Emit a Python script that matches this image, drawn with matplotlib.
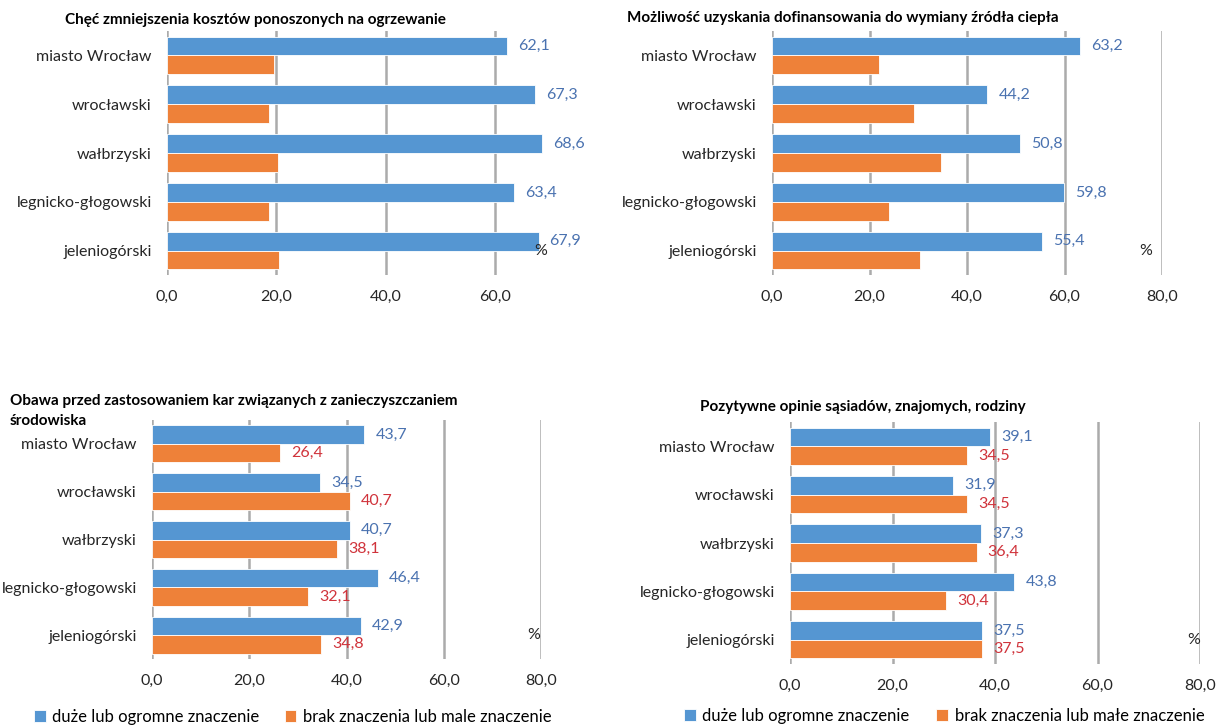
import matplotlib
matplotlib.use("Agg")
import matplotlib.pyplot as plt
import numpy as np

plt.rcParams['font.family'] = ['Lato', 'DejaVu Sans']

categories = ["miasto Wrocław", "wrocławski", "wałbrzyski", "legnicko-głogowski", "jeleniogórski"]

titles = [
    "Chęć zmniejszenia kosztów ponoszonych na ogrzewanie",
    "Możliwość uzyskania dofinansowania do wymiany źródła ciepła",
    "Obawa przed zastosowaniem kar związanych z zanieczyszczaniem\nśrodowiska",
    "Pozytywne opinie sąsiadów, znajomych, rodziny",
]

blue_1 = [62.1, 67.3, 68.6, 63.4, 67.9]
orange_1 = [19.5, 18.6, 20.2, 18.6, 20.4]
blue_2 = [63.2, 44.2, 50.8, 59.8, 55.4]
orange_2 = [21.9, 29.1, 34.7, 24.1, 30.3]
blue_3 = [43.7, 34.5, 40.7, 46.4, 42.9]
orange_3 = [26.4, 40.7, 38.1, 32.1, 34.8]
blue_4 = [39.1, 31.9, 37.3, 43.8, 37.5]
orange_4 = [34.5, 34.5, 36.4, 30.4, 37.5]

ticks_top_left = [0, 20, 40, 60]
ticks_full = [0, 20, 40, 60, 80]

legend_labels_3 = ["duże lub ogromne znaczenie", "brak znaczenia lub male znaczenie"]
legend_labels_4 = ["duże lub ogromne znaczenie", "brak znaczenia lub małe znaczenie"]

BLUE = "#5596D2"
ORANGE = "#EE8139"
BLUE_TXT = "#4A72B0"
RED_TXT = "#D0333B"
GRID = "#ABABAB"

W, H = 1221, 726
fig = plt.figure(figsize=(W / 100, H / 100), dpi=100)


def add_ax(left, right, top, bottom):
    return fig.add_axes([left / W, 1 - bottom / H, (right - left) / W, (bottom - top) / H])


def fmt(v):
    return f"{v:.1f}".replace(".", ",")


def draw(ax, blue, orange, xmax, ticks, label_orange, pct_x):
    y = np.arange(len(categories))
    h = 0.385
    bb = ax.barh(y - h / 2, blue, height=h, color=BLUE, edgecolor="white", linewidth=0.6, zorder=3)
    bo = ax.barh(y + h / 2, orange, height=h, color=ORANGE, edgecolor="white", linewidth=0.6, zorder=3)
    ax.set_ylim(len(categories) - 0.5, -0.5)
    ax.set_xlim(0, xmax)
    ax.set_yticks(y)
    ax.set_yticklabels(categories, fontsize=11.5, color="#262626")
    ax.set_xticks(ticks)
    ax.set_xticklabels([fmt(t) for t in ticks], fontsize=11.5, color="#262626")
    ax.tick_params(axis="both", length=0)
    ax.tick_params(axis="y", pad=11)
    ax.tick_params(axis="x", pad=11)
    for s in ax.spines.values():
        s.set_visible(False)
    ax.grid(axis="x", color=GRID, linewidth=1.8, zorder=0)
    ax.set_axisbelow(True)
    for yi, v in zip(y, blue):
        ax.annotate(fmt(v), (v, yi - h / 2), xytext=(8, 0), textcoords="offset points",
                    va="center", ha="left", fontsize=11.5, color=BLUE_TXT, zorder=5)
    if label_orange:
        for yi, v in zip(y, orange):
            ax.annotate(fmt(v), (v, yi + h / 2), xytext=(8, 0), textcoords="offset points",
                        va="center", ha="left", fontsize=11.5, color=RED_TXT, zorder=5)
    ax.text(pct_x, len(categories) - 1, "%", fontsize=11.5, color="#262626",
            ha="center", va="center", zorder=6)
    return bb, bo


ax1 = add_ax(167, 550, 31, 275)
draw(ax1, blue_1, orange_1, 70, ticks_top_left, False, 68.3)
ax2 = add_ax(772, 1162, 31, 275)
draw(ax2, blue_2, orange_2, 80, ticks_full, False, 76.6)
ax3 = add_ax(152, 541, 420, 659)
b3, o3 = draw(ax3, blue_3, orange_3, 80, ticks_full, True, 78.5)
ax4 = add_ax(790, 1200, 422, 664)
b4, o4 = draw(ax4, blue_4, orange_4, 80, ticks_full, True, 78.8)

fig.text(65 / W, 1 - 20 / H, titles[0], fontsize=11, fontweight="bold", va="center", ha="left")
fig.text(627 / W, 1 - 18 / H, titles[1], fontsize=11, fontweight="bold", va="center", ha="left")
fig.text(10 / W, 1 - 411 / H, titles[2], fontsize=11, fontweight="bold", va="center", ha="left",
         linespacing=1.6)
fig.text(700 / W, 1 - 407 / H, titles[3], fontsize=11, fontweight="bold", va="center", ha="left")

fig.legend([b3, o3], legend_labels_3, loc="center left", bbox_to_anchor=(34 / W, 1 - 717 / H),
           ncol=2, frameon=False, fontsize=12, handlelength=0.7, handleheight=0.7,
           handletextpad=0.4, columnspacing=1.5, borderaxespad=0, borderpad=0)
fig.legend([b4, o4], legend_labels_4, loc="center left", bbox_to_anchor=(684 / W, 1 - 716 / H),
           ncol=2, frameon=False, fontsize=12, handlelength=0.7, handleheight=0.7,
           handletextpad=0.4, columnspacing=1.6, borderaxespad=0, borderpad=0)

fig.savefig("out.png", dpi=100)
